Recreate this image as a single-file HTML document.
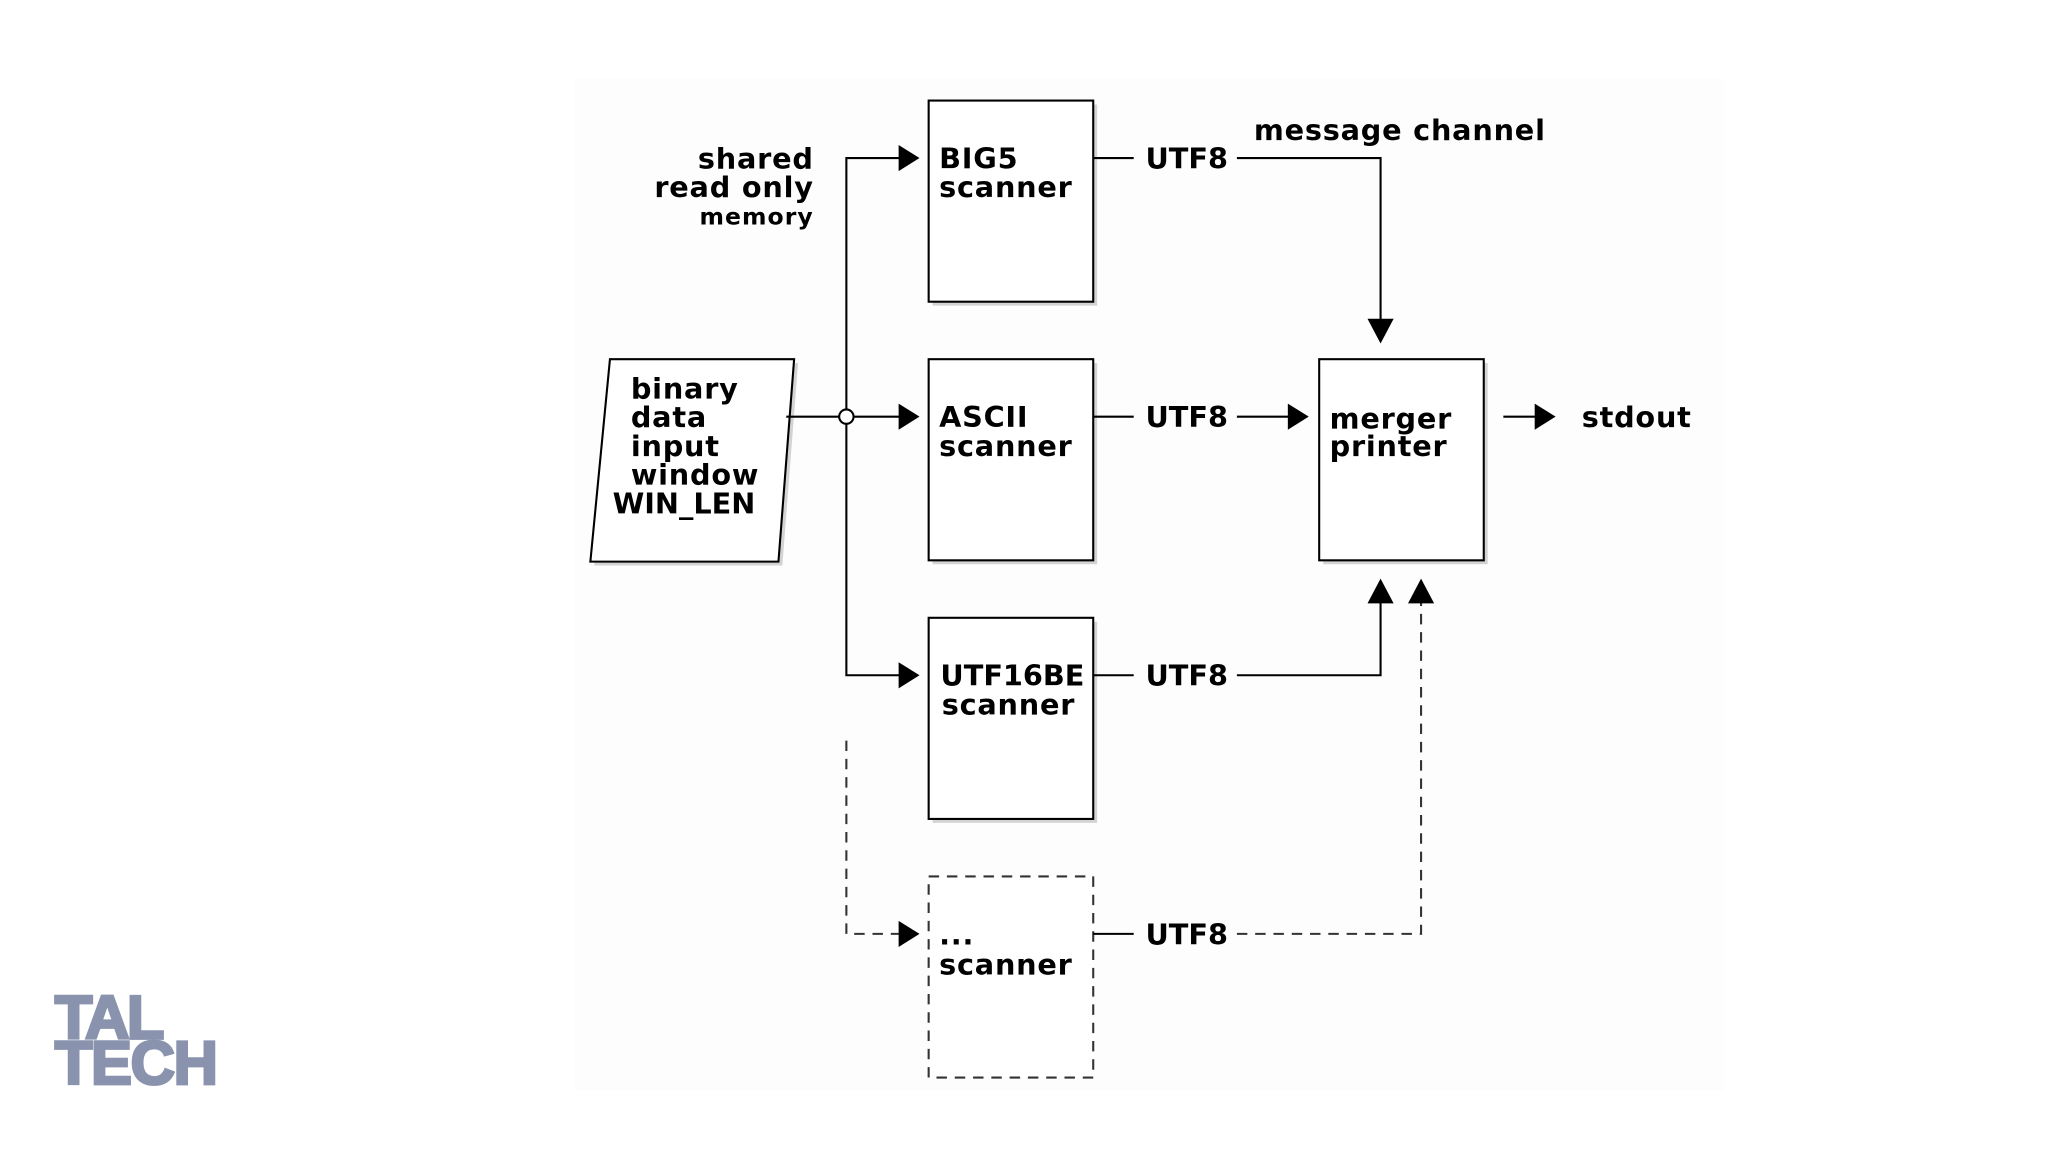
<!DOCTYPE html>
<html><head><meta charset="utf-8"><style>
html,body{margin:0;padding:0;background:#fff;}
svg{display:block;}
text{font-family:"DejaVu Sans","Liberation Sans",sans-serif;font-weight:bold;fill:#000;}
</style></head><body>
<svg width="2048" height="1152" viewBox="0 0 1568 882" xmlns="http://www.w3.org/2000/svg">
<rect x="0" y="0" width="1568" height="882" fill="#fff"/>
<rect x="440" y="60" width="880" height="775" fill="#fdfdfd"/>
<!-- shadows -->
<g fill="#b8b8b8" opacity="0.6">
<rect x="714" y="80" width="126" height="154"/>
<rect x="714" y="278" width="126" height="154"/>
<rect x="714" y="476" width="126" height="154"/>
<rect x="1013" y="278" width="126" height="154"/>
<polygon points="470,278 611,278 599,433 455,433"/>
</g>
<g stroke="#000" stroke-width="1.6" fill="#fff">
<rect x="711" y="77" width="126" height="154"/>
<rect x="711" y="275" width="126" height="154"/>
<rect x="711" y="473" width="126" height="154"/>
<rect x="1010" y="275" width="126" height="154"/>
<polygon points="467,275 608,275 596,430 452,430"/>
</g>
<rect x="711" y="671" width="126" height="154" fill="#fff" stroke="#333" stroke-width="1.6" stroke-dasharray="8,6"/>
<!-- lines -->
<g stroke="#000" stroke-width="1.6" fill="none">
<polyline points="690,121 648,121 648,517 690,517"/>
<line x1="602" y1="319" x2="690" y2="319"/>
<line x1="837" y1="121" x2="868" y2="121"/>
<line x1="837" y1="319" x2="868" y2="319"/>
<line x1="837" y1="517" x2="868" y2="517"/>
<line x1="837" y1="715" x2="868" y2="715"/>
<polyline points="947,121 1057,121 1057,248"/>
<line x1="947" y1="319" x2="988" y2="319"/>
<polyline points="947,517 1057,517 1057,458"/>
<line x1="1151" y1="319" x2="1177" y2="319"/>
</g>
<g stroke="#333" stroke-width="1.6" fill="none" stroke-dasharray="8,6">
<polyline points="648,567 648,715 690,715"/>
<polyline points="947,715 1088,715 1088,458"/>
</g>
<circle cx="648" cy="319" r="5.5" fill="#fff" stroke="#000" stroke-width="1.6"/>
<!-- arrowheads -->
<g fill="#000">
<polygon points="688,111 704,121 688,131"/>
<polygon points="688,309 704,319 688,329"/>
<polygon points="688,507 704,517 688,527"/>
<polygon points="688,705 704,715 688,725"/>
<polygon points="986,309 1002,319 986,329"/>
<polygon points="1175,309 1191,319 1175,329"/>
<polygon points="1047,244 1057,263 1067,244"/>
<polygon points="1047,462 1057,443 1067,462"/>
<polygon points="1078,462 1088,443 1098,462"/>
</g>
<!-- text -->
<g font-size="22" letter-spacing="0.6">
<text x="719" y="129">BIG5</text><text x="719" y="151">scanner</text>
<text x="719" y="327">ASCII</text><text x="719" y="349">scanner</text>
<text x="720" y="525" letter-spacing="0">UTF16BE</text><text x="721" y="547">scanner</text>
<text x="719" y="723">...</text><text x="719" y="746">scanner</text>
<text x="1018" y="328">merger</text><text x="1018" y="349">printer</text>
<text x="877" y="129" letter-spacing="0">UTF8</text>
<text x="877" y="327" letter-spacing="0">UTF8</text>
<text x="877" y="525" letter-spacing="0">UTF8</text>
<text x="877" y="723" letter-spacing="0">UTF8</text>
<text x="960" y="107">message channel</text>
<text x="1211" y="327">stdout</text>
<text x="623" y="129" text-anchor="end">shared</text>
<text x="623" y="151" text-anchor="end">read only</text>
<text x="483" y="305">binary</text>
<text x="483" y="327">data</text>
<text x="483" y="349">input</text>
<text x="483" y="371">window</text>
<text x="469" y="393" letter-spacing="0">WIN_LEN</text>
</g>
<text x="623" y="172" text-anchor="end" font-size="18" letter-spacing="0.8">memory</text>
<!-- logo -->
<g font-weight="bold">
<text x="42" y="795" font-size="47" style="fill:#8a93ae;stroke:#8a93ae;stroke-width:2.2;font-family:'Liberation Sans',sans-serif" letter-spacing="-2">TAL</text>
<text x="42" y="830" font-size="47" style="fill:#8a93ae;stroke:#8a93ae;stroke-width:2.2;font-family:'Liberation Sans',sans-serif" letter-spacing="-1">TECH</text>
</g>
</svg>
</body></html>
